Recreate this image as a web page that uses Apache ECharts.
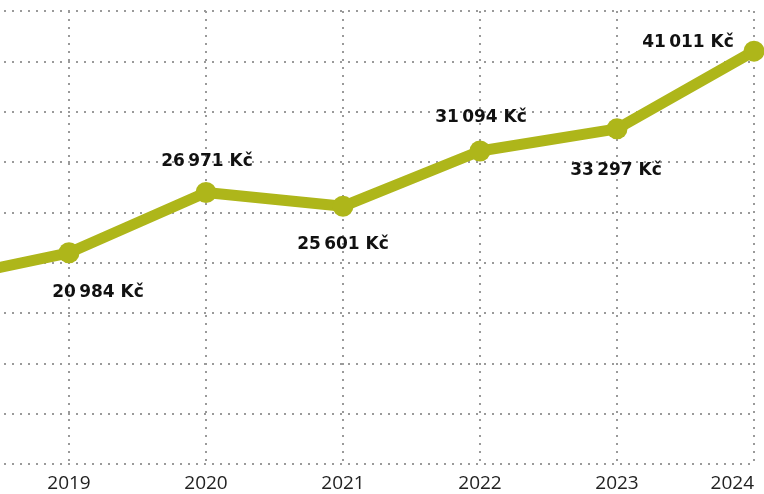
<!DOCTYPE html>
<html>
<head>
<meta charset="utf-8">
<script src="https://cdn.jsdelivr.net/npm/echarts@6/dist/echarts.min.js"></script>
<style>
  html, body { margin: 0; padding: 0; background: #fff; }
  #chart { width: 764px; height: 494px; }
</style>
</head>
<body>
<div id="chart"></div>
<script>
// data (2018 is only partly visible at the left edge)
var years = ["2018", "2019", "2020", "2021", "2022", "2023", "2024"];
var salary = [18100, 20984, 26971, 25601, 31094, 33297, 41011];
var yMin = 0, yMax = 45000, yStep = 5000;

// label placement around each point: [dx, dy], null = no label
var labelOffsets = [null, [29, 40], [1, -31], [0, 38], [1, -33], [-1, 42], [-66, -9]];

function fmt(v) {
  return String(v).replace(/\B(?=(\d{3})+(?!\d))/g, "\u2009") + " Kč";
}

var chart = echarts.init(document.getElementById("chart"));

var points = salary.map(function (v, i) {
  var off = labelOffsets[i];
  return {
    value: v,
    label: off ? { show: true, position: "inside", offset: off } : { show: false }
  };
});

var dotted = { color: "#9a9a9a", width: 2, type: [2, 6] };

chart.setOption({
  animation: false,
  grid: {
    left: -68, right: 10, top: 11, bottom: 30,
    containLabel: false,
    outerBoundsMode: "none"
  },
  xAxis: {
    type: "category",
    data: years,
    boundaryGap: false,
    axisLine: { show: false },
    axisTick: { show: false },
    axisLabel: {
      margin: 10,
      color: "#222",
      fontFamily: "Open Sans",
      fontSize: 19,
      alignMaxLabel: "right"
    },
    splitLine: { show: true, lineStyle: dotted }
  },
  yAxis: {
    type: "value",
    min: yMin,
    max: yMax,
    interval: yStep,
    axisLine: { show: false },
    axisTick: { show: false },
    axisLabel: { show: false },
    splitLine: { show: true, lineStyle: dotted }
  },
  series: [{
    type: "line",
    data: points,
    symbol: "circle",
    symbolSize: 21,
    lineStyle: { color: "#aeb61a", width: 11 },
    itemStyle: { color: "#aeb61a" },
    label: {
      color: "#111",
      fontFamily: "DejaVu Sans",
      fontWeight: "bold",
      fontSize: 17,
      formatter: function (p) { return fmt(p.value); }
    },
    z: 5
  }]
});
</script>
</body>
</html>
